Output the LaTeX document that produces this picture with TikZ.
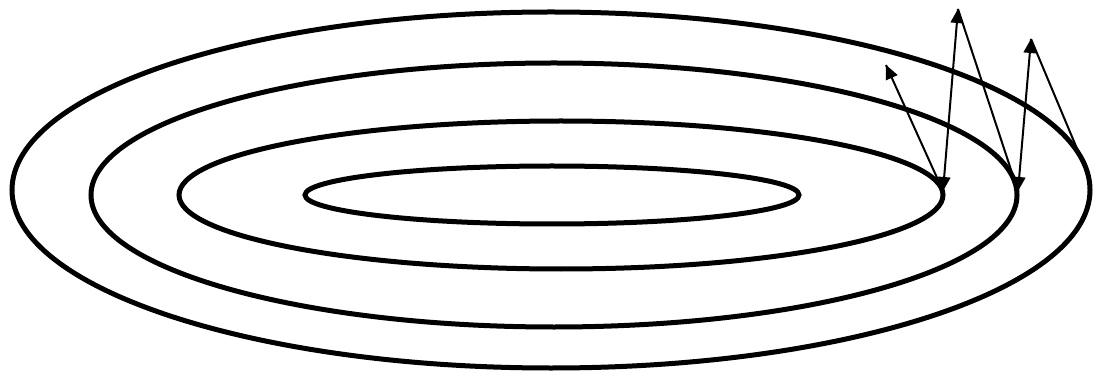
\documentclass[tikz,border=0pt]{standalone}
\usetikzlibrary{calc}
\tikzset{
  ring/.style={line width=5pt, draw=black},
  rayline/.style={line width=2pt, draw=black},
  headfill/.style={fill=black}
}
\newcommand\rayhead[2]{% tip at #2, coming from #1
  \path ($(#2)!14pt!(#1)$) coordinate (hbase);
  \fill[headfill] (#2) -- ($(hbase)!6.5pt!90:(#2)$) -- ($(hbase)!6.5pt!-90:(#2)$) -- cycle;
}
\begin{document}
\begin{tikzpicture}[x=1pt,y=-1pt]
\useasboundingbox (0,0) rectangle (1094,371);
% rings
\draw[ring] (551,190) ellipse [x radius=539, y radius=178];
\draw[ring] (554,195) ellipse [x radius=463, y radius=132];
\draw[ring] (561,195) ellipse [x radius=382, y radius=74];
\draw[ring] (552,195) ellipse [x radius=247, y radius=29];
% ray points
\coordinate (p1) at (943,191);
\coordinate (q0) at (886,65);
\coordinate (q1) at (958,9);
\coordinate (p2) at (1018,191);
\coordinate (q2) at (1031,39);
\coordinate (e) at (1083,163);
% rays
\draw[rayline] (p1) -- (q0);
\draw[rayline] (p1) -- (q1);
\draw[rayline] (q1) -- (p2);
\draw[rayline] (p2) -- (q2);
\draw[rayline] (q2) -- (e);
% heads
\rayhead{p1}{q0}
\rayhead{p1}{q1}
\rayhead{q1}{p1}
\rayhead{q2}{p2}
\rayhead{p2}{q2}
\end{tikzpicture}
\end{document}
